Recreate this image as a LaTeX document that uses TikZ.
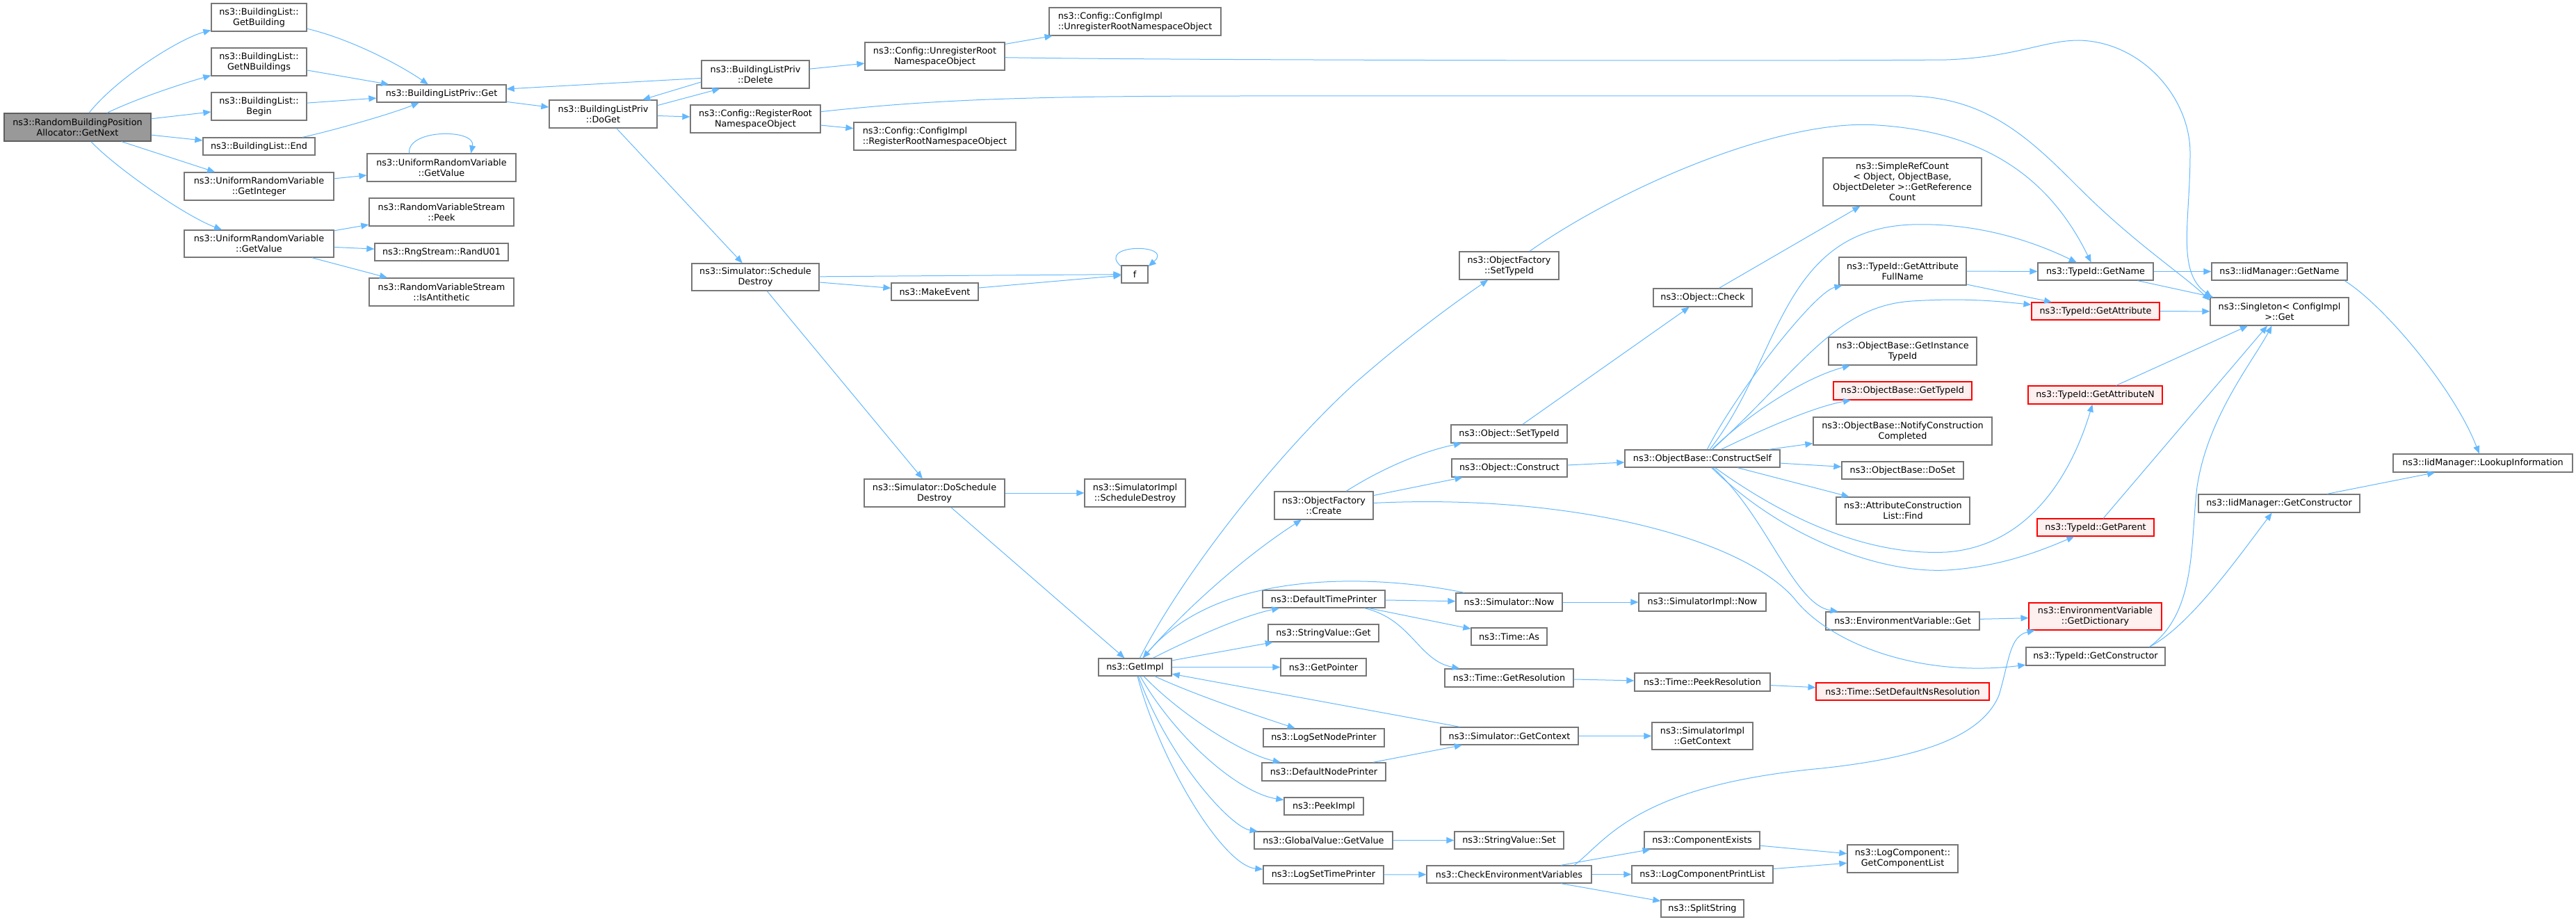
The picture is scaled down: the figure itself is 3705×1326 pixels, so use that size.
\documentclass[tikz,border=0pt]{standalone}
\usepackage{fontspec}
\setmainfont{DejaVu Sans}
\usetikzlibrary{arrows.meta}
\definecolor{edgec}{HTML}{63B8FF}
\definecolor{bordc}{HTML}{777777}
\definecolor{rootf}{HTML}{999999}
\definecolor{redf}{HTML}{FFF0F0}
\definecolor{redb}{HTML}{FF0000}
\tikzset{
 box/.style={draw=bordc, line width=0.65pt, fill=white, inner sep=0pt, align=center,
   font=\fontsize{6.4pt}{7.5pt}\selectfont, text=black},
 rootbox/.style={fill=rootf, draw=bordc!80!black},
 redbox/.style={draw=redb, fill=redf, line width=0.55pt},
 leftbox/.style={align=left},
 cedge/.style={draw=edgec, line width=0.5pt, -{Triangle[length=5.5pt,width=4.5pt]}},
}
\newcommand{\gnode}[7][]{%
 \pgfmathsetmacro\gnw{(#5-#3)*0.5}\pgfmathsetmacro\gnh{(#6-#4)*0.5}%
 \node[box,#1,minimum width=\gnw pt,minimum height=\gnh pt] (#2) at ({(#3+#5)/2},{(#4+#6)/2}) {#7};}
\begin{document}
\begin{tikzpicture}[x=0.5pt,y=-0.5pt]
\useasboundingbox (0,0) rectangle (3705,1326);
% nodes
\gnode[rootbox]{root}{6}{163}{217}{203}{ns3::RandomBuildingPosition\\Allocator::GetNext}
\gnode{bgb}{304}{5}{441}{45}{ns3::BuildingList::\\GetBuilding}
\gnode{bgn}{304}{69}{441}{109}{ns3::BuildingList::\\GetNBuildings}
\gnode{bbe}{304}{133}{441}{173}{ns3::BuildingList::\\Begin}
\gnode{ben}{292}{198}{453}{223}{ns3::BuildingList::End}
\gnode{ugi}{265}{248}{480}{288}{ns3::UniformRandomVariable\\::GetInteger}
\gnode{ugv2}{528}{221}{742}{261}{ns3::UniformRandomVariable\\::GetValue}
\gnode{ugv}{265}{331}{480}{370}{ns3::UniformRandomVariable\\::GetValue}
\gnode{peek}{531}{285}{739}{325}{ns3::RandomVariableStream\\::Peek}
\gnode{rand}{539}{350}{731}{375}{ns3::RngStream::RandU01}
\gnode{anti}{531}{400}{739}{440}{ns3::RandomVariableStream\\::IsAntithetic}
\gnode{bpg}{542}{122}{728}{147}{ns3::BuildingListPriv::Get}
\gnode{doget}{790}{144}{945}{184}{ns3::BuildingListPriv\\::DoGet}
\gnode{del}{1009}{87}{1164}{127}{ns3::BuildingListPriv\\::Delete}
\gnode{cur}{1244}{61}{1445}{101}{ns3::Config::UnregisterRoot\\NamespaceObject}
\gnode[leftbox]{ciur}{1509}{11}{1756}{51}{ns3::Config::ConfigImpl\\::UnregisterRootNamespaceObject}
\gnode{cr}{993}{151}{1180}{191}{ns3::Config::RegisterRoot\\NamespaceObject}
\gnode[leftbox]{cir}{1228}{176}{1461}{216}{ns3::Config::ConfigImpl\\::RegisterRootNamespaceObject}
\gnode{sd}{995}{379}{1178}{418}{ns3::Simulator::Schedule\\Destroy}
\gnode{mk}{1282}{407}{1407}{432}{ns3::MakeEvent}
\gnode{f}{1613}{382}{1651}{407}{f}
\gnode{dsd}{1243}{689}{1445}{729}{ns3::Simulator::DoSchedule\\Destroy}
\gnode{sisd}{1560}{689}{1705}{729}{ns3::SimulatorImpl\\::ScheduleDestroy}
\gnode{gi}{1580}{947}{1685}{972}{ns3::GetImpl}
\gnode{ofs}{2099}{362}{2242}{402}{ns3::ObjectFactory\\::SetTypeId}
\gnode{ofc}{1833}{707}{1975}{747}{ns3::ObjectFactory\\::Create}
\gnode{dtp}{1816}{849}{1992}{874}{ns3::DefaultTimePrinter}
\gnode{svg}{1824}{898}{1983}{923}{ns3::StringValue::Get}
\gnode{gp}{1842}{947}{1965}{972}{ns3::GetPointer}
\gnode{lsnp}{1817}{1048}{1991}{1074}{ns3::LogSetNodePrinter}
\gnode{dnp}{1815}{1097}{1993}{1123}{ns3::DefaultNodePrinter}
\gnode{pi}{1847}{1147}{1961}{1172}{ns3::PeekImpl}
\gnode{gvg}{1804}{1196}{2003}{1221}{ns3::GlobalValue::GetValue}
\gnode{lstp}{1817}{1245}{1990}{1271}{ns3::LogSetTimePrinter}
\gnode{osti}{2087}{611}{2254}{637}{ns3::Object::SetTypeId}
\gnode{oc}{2088}{660}{2254}{686}{ns3::Object::Construct}
\gnode{ock}{2378}{415}{2520}{441}{ns3::Object::Check}
\gnode{src}{2622}{227}{2850}{296}{ns3::SimpleRefCount\\< Object, ObjectBase,\\ObjectDeleter >::GetReference\\Count}
\gnode{cs}{2337}{647}{2560}{672}{ns3::ObjectBase::ConstructSelf}
\gnode{gafn}{2645}{370}{2828}{410}{ns3::TypeId::GetAttribute\\FullName}
\gnode{gn}{2931}{378}{3097}{403}{ns3::TypeId::GetName}
\gnode{iign}{3181}{378}{3376}{403}{ns3::IidManager::GetName}
\gnode[redbox]{ga}{2922}{435}{3106}{460}{ns3::TypeId::GetAttribute}
\gnode{sg}{3179}{428}{3378}{468}{ns3::Singleton< ConfigImpl\\ >::Get}
\gnode{git}{2630}{485}{2843}{525}{ns3::ObjectBase::GetInstance\\TypeId}
\gnode[redbox]{gti}{2637}{549}{2836}{575}{ns3::ObjectBase::GetTypeId}
\gnode{ncc}{2608}{600}{2865}{640}{ns3::ObjectBase::NotifyConstruction\\Completed}
\gnode{ds}{2649}{664}{2824}{689}{ns3::ObjectBase::DoSet}
\gnode{acf}{2641}{715}{2833}{754}{ns3::AttributeConstruction\\List::Find}
\gnode[redbox]{gan}{2917}{555}{3110}{581}{ns3::TypeId::GetAttributeN}
\gnode[redbox]{gpar}{2930}{746}{3098}{771}{ns3::TypeId::GetParent}
\gnode{evg}{2626}{880}{2847}{906}{ns3::EnvironmentVariable::Get}
\gnode[redbox]{gd}{2918}{867}{3109}{906}{ns3::EnvironmentVariable\\::GetDictionary}
\gnode{gc}{2914}{931}{3114}{957}{ns3::TypeId::GetConstructor}
\gnode{igc}{3162}{711}{3394}{737}{ns3::IidManager::GetConstructor}
\gnode{li}{3442}{653}{3700}{679}{ns3::IidManager::LookupInformation}
\gnode{sn}{2094}{853}{2247}{879}{ns3::Simulator::Now}
\gnode{sin}{2357}{853}{2540}{879}{ns3::SimulatorImpl::Now}
\gnode{ta}{2116}{903}{2225}{928}{ns3::Time::As}
\gnode{tgr}{2078}{962}{2263}{988}{ns3::Time::GetResolution}
\gnode{tpr}{2351}{968}{2546}{994}{ns3::Time::PeekResolution}
\gnode[redbox]{sdn}{2612}{982}{2861}{1007}{ns3::Time::SetDefaultNsResolution}
\gnode{sgc}{2072}{1046}{2270}{1071}{ns3::Simulator::GetContext}
\gnode{sigc}{2376}{1039}{2521}{1078}{ns3::SimulatorImpl\\::GetContext}
\gnode{svs}{2092}{1196}{2249}{1221}{ns3::StringValue::Set}
\gnode{cev}{2052}{1245}{2289}{1270}{ns3::CheckEnvironmentVariables}
\gnode{ce}{2365}{1196}{2531}{1221}{ns3::ComponentExists}
\gnode{lcpl}{2347}{1245}{2550}{1270}{ns3::LogComponentPrintList}
\gnode{ss}{2389}{1294}{2508}{1319}{ns3::SplitString}
\gnode{lcg}{2657}{1215}{2816}{1255}{ns3::LogComponent::\\GetComponentList}
% edges
\draw[cedge] (root) .. controls (170,110) and (260,55) .. (bgb);
\draw[cedge] (root) .. controls (200,140) and (270,118) .. (bgn);
\draw[cedge] (root) -- (bbe);
\draw[cedge] (root) -- (ben);
\draw[cedge] (root) -- (ugi);
\draw[cedge] (root) .. controls (165,240) and (265,310) .. (ugv);
\draw[cedge] (bgb) .. controls (500,55) and (570,90) .. (bpg);
\draw[cedge] (bgn) -- (bpg);
\draw[cedge] (bbe) -- (bpg);
\draw[cedge] (ben) .. controls (470,190) and (560,165) .. (bpg);
\draw[cedge] (ugi) -- (ugv2);
\draw[cedge] (ugv2.156) .. controls (585,185) and (685,185) .. (ugv2.26);
\draw[cedge] (ugv) -- (peek);
\draw[cedge] (ugv) -- (rand);
\draw[cedge] (ugv) -- (anti);
\draw[cedge] (bpg) -- (doget);
\draw[cedge] (doget.9) -- (del.202);
\draw[cedge] (del.188) -- (doget.20);
\draw[cedge] (del.184) -- (bpg.4);
\draw[cedge] (doget) -- (cr);
\draw[cedge] (del) -- (cur);
\draw[cedge] (cur) -- (ciur);
\draw[cedge] (cr) -- (cir);
\draw[cedge] (cur) .. controls (1700,87) and (2600,88) .. (2800,86) .. controls (2900,82) and (2940,58) .. (2990,58) .. controls (3080,60) and (3150,140) .. (3150,220) .. controls (3150,320) and (3130,390) .. (sg.168);
\draw[cedge] (cr) .. controls (1350,142) and (1500,138) .. (1800,138) -- (2750,138) .. controls (2860,142) and (2920,200) .. (2990,270) .. controls (3070,350) and (3140,395) .. (sg.171);
\draw[cedge] (doget) -- (sd);
\draw[cedge] (sd) -- (f);
\draw[cedge] (sd) -- (mk);
\draw[cedge] (mk) -- (f);
\draw[cedge] (f.150) .. controls (1575,350) and (1690,350) .. (f.30);
\draw[cedge] (sd) -- (dsd);
\draw[cedge] (dsd) -- (sisd);
\draw[cedge] (dsd) -- (gi);
\draw[cedge] (gi) .. controls (1710,810) and (1850,640) .. (1950,550) .. controls (2030,480) and (2100,430) .. (ofs);
\draw[cedge] (gi) .. controls (1700,880) and (1790,800) .. (ofc);
\draw[cedge] (gi) .. controls (1720,915) and (1790,885) .. (dtp);
\draw[cedge] (sn) .. controls (2000,830) and (1760,810) .. (gi);
\draw[cedge] (gi) -- (svg);
\draw[cedge] (gi) -- (gp);
\draw[cedge] (sgc) -- (gi);
\draw[cedge] (gi) .. controls (1720,1000) and (1810,1030) .. (lsnp);
\draw[cedge] (gi) .. controls (1700,1030) and (1790,1085) .. (dnp);
\draw[cedge] (gi) .. controls (1690,1060) and (1780,1140) .. (pi);
\draw[cedge] (gi) .. controls (1680,1090) and (1770,1190) .. (gvg);
\draw[cedge] (gi) .. controls (1670,1100) and (1760,1245) .. (lstp);
\draw[cedge] (ofc) .. controls (1990,672) and (2050,648) .. (osti);
\draw[cedge] (ofc) -- (oc);
\draw[cedge] (ofc) .. controls (2250,710) and (2500,770) .. (2580,860) .. controls (2630,925) and (2760,975) .. (gc);
\draw[cedge] (osti) -- (ock);
\draw[cedge] (ock) -- (src);
\draw[cedge] (oc) -- (cs);
\draw[cedge] (ofs) .. controls (2330,270) and (2560,170) .. (2700,180) .. controls (2860,190) and (2950,260) .. (gn);
\draw[cedge] (cs) .. controls (2500,560) and (2610,420) .. (gafn);
\draw[cedge] (cs) .. controls (2560,520) and (2560,330) .. (2750,323) .. controls (2850,320) and (2930,350) .. (gn);
\draw[cedge] (cs) .. controls (2590,530) and (2640,440) .. (2750,433) .. controls (2830,428) and (2880,434) .. (ga);
\draw[cedge] (gafn) -- (gn);
\draw[cedge] (gafn) -- (ga);
\draw[cedge] (gn) -- (iign);
\draw[cedge] (gn) -- (sg);
\draw[cedge] (iign.352) .. controls (3430,440) and (3530,560) .. (li);
\draw[cedge] (ga) -- (sg);
\draw[cedge] (gan) -- (sg);
\draw[cedge] (gpar) -- (sg);
\draw[cedge] (gc.10) .. controls (3160,880) and (3150,780) .. (3160,700) .. controls (3175,600) and (3240,520) .. (sg);
\draw[cedge] (gc.10) .. controls (3150,900) and (3220,800) .. (igc);
\draw[cedge] (igc) -- (li);
\draw[cedge] (cs) .. controls (2510,600) and (2590,545) .. (git);
\draw[cedge] (cs) .. controls (2540,615) and (2610,585) .. (gti);
\draw[cedge] (cs) -- (ncc);
\draw[cedge] (cs) -- (ds);
\draw[cedge] (cs) -- (acf);
\draw[cedge] (cs) .. controls (2560,740) and (2680,800) .. (2800,794) .. controls (2920,785) and (2980,680) .. (gan);
\draw[cedge] (cs) .. controls (2560,770) and (2700,825) .. (2800,820) .. controls (2880,815) and (2940,790) .. (gpar);
\draw[cedge] (cs) .. controls (2540,740) and (2580,870) .. (evg);
\draw[cedge] (evg) -- (gd);
\draw[cedge] (dtp) -- (sn);
\draw[cedge] (dtp) -- (ta);
\draw[cedge] (dtp) .. controls (2030,890) and (2040,950) .. (tgr);
\draw[cedge] (sn) -- (sin);
\draw[cedge] (tgr) -- (tpr);
\draw[cedge] (tpr) -- (sdn);
\draw[cedge] (dnp) -- (sgc);
\draw[cedge] (sgc) -- (sigc);
\draw[cedge] (gvg) -- (svs);
\draw[cedge] (lstp) -- (cev);
\draw[cedge] (cev) -- (ce);
\draw[cedge] (cev) -- (lcpl);
\draw[cedge] (cev) -- (ss);
\draw[cedge] (ce) -- (lcg);
\draw[cedge] (lcpl) -- (lcg);
\draw[cedge] (cev.8) .. controls (2310,1210) and (2350,1130) .. (2620,1105) .. controls (2760,1090) and (2850,1060) .. (2875,1000) .. controls (2890,950) and (2890,915) .. (gd);
\end{tikzpicture}
\end{document}
